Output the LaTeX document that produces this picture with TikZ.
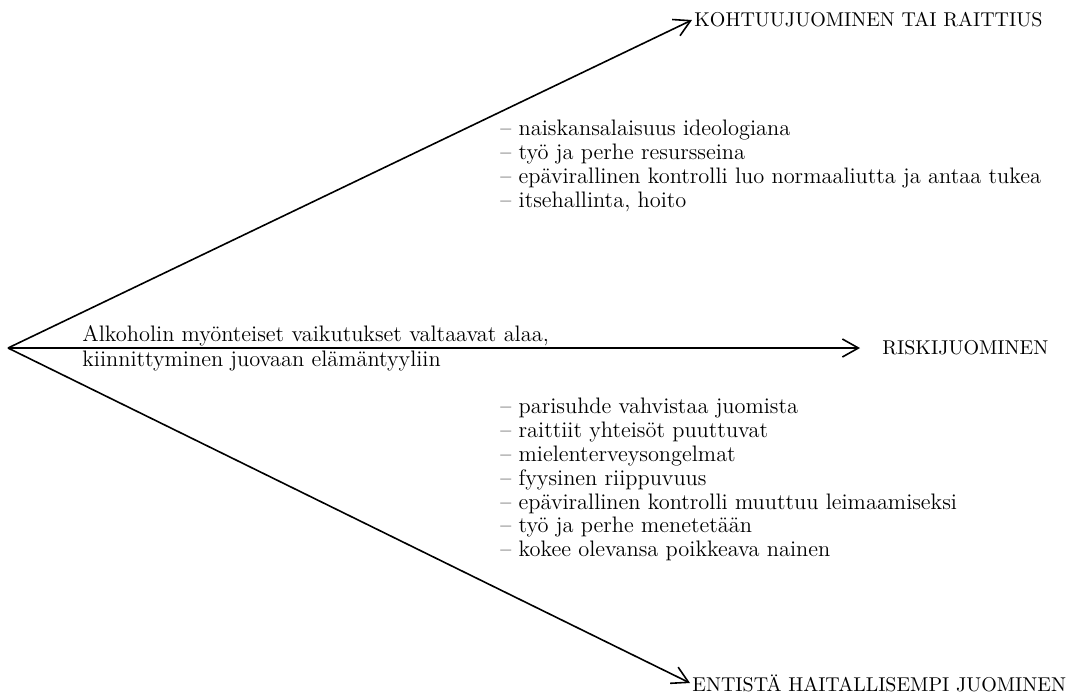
\documentclass[tikz,border=0pt]{standalone}
\usetikzlibrary{arrows.meta}
\begin{document}
\begin{tikzpicture}[x=0.5pt,y=-0.5pt,>={Straight Barb[length=8pt,width=9pt]},
  every node/.style={font=\fontsize{11.2}{11.9}\selectfont},
  otsikko/.style={anchor=west,inner sep=1pt,font=\fontsize{10}{12}\selectfont}]
\useasboundingbox (0,0) rectangle (1069,697);
\coordinate (o) at (8,348);
\node[otsikko] (kohtuu) at (692,20) {KOHTUUJUOMINEN TAI RAITTIUS};
\node[otsikko] (riski) at (880,348) {RISKIJUOMINEN};
\node[otsikko] (haital) at (690,683) {ENTISTÄ HAITALLISEMPI JUOMINEN};

\node[anchor=north west,inner sep=0pt,align=left,font=\fontsize{11.2}{12.5}\selectfont] (myont) at (82,325)
  {Alkoholin myönteiset vaikutukset valtaavat alaa,\\kiinnittyminen juovaan elämäntyyliin};

\node[anchor=north west,inner sep=0pt,align=left] (ylalista) at (500,120)
  {-- naiskansalaisuus ideologiana\\
   -- työ ja perhe resursseina\\
   -- epävirallinen kontrolli luo normaaliutta ja antaa tukea\\
   -- itsehallinta, hoito};
\node[anchor=north west,inner sep=0pt,align=left] (alalista) at (500,398)
  {-- parisuhde vahvistaa juomista\\
   -- raittiit yhteisöt puuttuvat\\
   -- mielenterveysongelmat\\
   -- fyysinen riippuvuus\\
   -- epävirallinen kontrolli muuttuu leimaamiseksi\\
   -- työ ja perhe menetetään\\
   -- kokee olevansa poikkeava nainen};

\path[line width=0.8pt,->] (o) edge (kohtuu.west);
\path[line width=0.8pt,->] (o) edge [shorten >=10pt] (riski.west);
\path[line width=0.8pt,->] (o) edge (haital.west);
\end{tikzpicture}
\end{document}
